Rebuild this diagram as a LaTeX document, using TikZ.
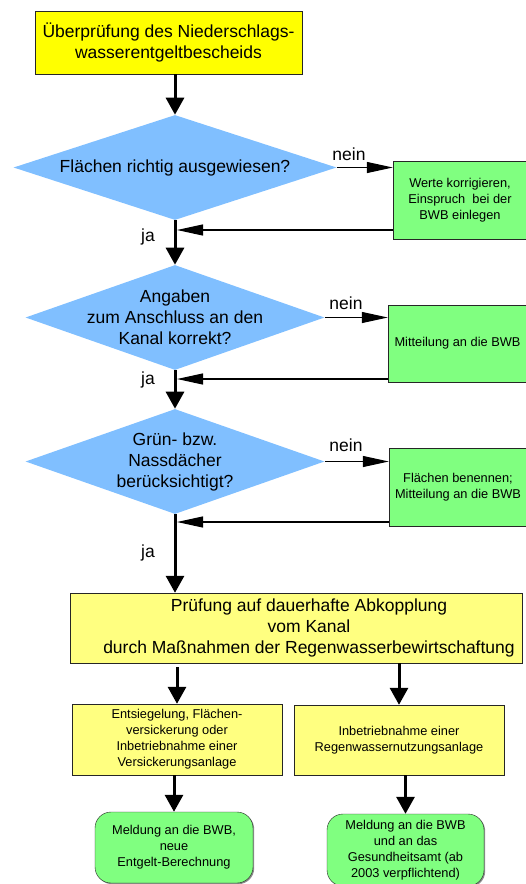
\documentclass[tikz,border=0pt]{standalone}
\usepackage{fontspec}
\setmainfont{Liberation Sans}
\usetikzlibrary{calc}
\usetikzlibrary{positioning}
\usetikzlibrary{arrows.meta}
\usetikzlibrary{shapes}
\usetikzlibrary{shadows}
\definecolor{checkYellow}{HTML}{FFFF00}
\definecolor{paleYellow}{HTML}{FFFF80}
\definecolor{noteGreen}{HTML}{80FF80}
\definecolor{askBlue}{HTML}{80BFFF}
\tikzset{every picture/.style={semithick}}
\tikzset{
  bigfont/.style={font=\fontsize{17.5}{21}\selectfont, align=center},
  smallfont/.style={font=\fontsize{12.8}{16}\selectfont, align=center},
  boxshadow/.style={drop shadow={shadow xshift=1.2pt, shadow yshift=-1.2pt, fill=black!45, opacity=1}},
  checkbox/.style={draw=black!85, thin, fill=checkYellow, inner sep=0pt, boxshadow, bigfont},
  measurebox/.style={draw=black!85, thin, fill=paleYellow, inner sep=0pt, boxshadow},
  notebox/.style={draw=black!85, thin, fill=noteGreen, inner sep=0pt, boxshadow, smallfont},
  reportbox/.style={draw=black!85, thin, fill=noteGreen, rounded corners=16pt, inner sep=0pt, boxshadow, smallfont},
  question/.style={diamond, fill=askBlue, inner sep=0pt, minimum height=105pt},
  flow/.style={line width=3pt, -{Triangle[length=17pt, width=18pt]}},
  branch/.style={line width=1.1pt, -{Triangle[length=26pt, width=11pt]}},
}
\begin{document}
\begin{tikzpicture}[x=1pt, y=-1pt]
  \useasboundingbox (0,0) rectangle (526,884);
  \clip (0,0) rectangle (526,884);

  % start
  \node[checkbox, minimum width=267pt, minimum height=63pt] (start) at (168.5,42.5)
    {\"Uberpr\"ufung des Niederschlags-\\wasserentgeltbescheids};

  % questions
  \node[question, minimum width=323pt,
    label={[bigfont]center:Flächen richtig ausgewiesen?}] (q1) at (175,167.5) {};
  \node[question, minimum width=299pt,
    label={[bigfont]center:{Angaben\\zum Anschluss an den\\Kanal korrekt?}}] (q2) at (175,317.5) {};
  \node[question, minimum width=299pt,
    label={[bigfont]center:{Grün- bzw.\\Nassdächer\\berücksichtigt?}}] (q3) at (175,461.5) {};

  % answers "nein"
  \node[notebox, minimum width=134pt, minimum height=78pt] (n1) at (460,200)
    {Werte korrigieren,\\Einspruch\ \ bei der\\BWB einlegen};
  \node[notebox, minimum width=139pt, minimum height=77pt] (n2) at (457.5,343.5)
    {Mitteilung an die BWB};
  \node[notebox, minimum width=138pt, minimum height=78pt] (n3) at (458,487)
    {Flächen benennen;\\Mitteilung an die BWB};

  \node[bigfont] (nein1) at (349,154) {nein};
  \node[bigfont] (nein2) at (346,303) {nein};
  \node[bigfont] (nein3) at (346,445) {nein};
  \node[bigfont] (ja1) at (148,237) {ja};
  \node[bigfont] (ja2) at (148,380) {ja};
  \node[bigfont] (ja3) at (148,553) {ja};

  % measures
  \node[measurebox, minimum width=452pt, minimum height=70pt,
    label={[bigfont, xshift=13pt]center:{Prüfung auf dauerhafte Abkopplung\\vom Kanal\\durch Maßnahmen der Regenwasserbewirtschaftung}}]
    (check) at (296,628) {};
  \node[measurebox, smallfont, minimum width=210pt, minimum height=71pt] (seep) at (177,739.5)
    {Entsiegelung, Flächen-\\versickerung oder\\Inbetriebnahme einer\\Versickerungsanlage};
  \node[measurebox, smallfont, minimum width=210pt, minimum height=70pt] (rain) at (399,740)
    {Inbetriebnahme einer\\Regenwassernutzungsanlage};

  % reports
  \node[reportbox, minimum width=158pt, minimum height=71pt] (rep1) at (174,847.5)
    {Meldung an die BWB,\\neue\\Entgelt-Berechnung};
  \node[reportbox, minimum width=157pt, minimum height=72pt] (rep2) at (405.5,850)
    {Meldung an die BWB\\und an das\\Gesundheitsamt (ab\\2003 verpflichtend)};

  % return points
  \coordinate (back1) at (177,230);
  \coordinate (back2) at (177,379);
  \coordinate (back3) at (177,522);

  % main flow
  \draw[flow] (start.south -| q1.north) -- (q1.north);
  \draw[flow] (q1.south) -- (q2.north);
  \draw[flow] (q2.south) -- (q3.north);
  \draw[flow] (q3.south) -- (q3.south |- check.north);
  \draw[flow] ($(check.south -| seep.north)+(0,4)$) -- (seep.north);
  \draw[flow] (check.south -| rain.north) -- (rain.north);
  \draw[flow] (seep.south -| rep1.north) -- (rep1.north);
  \draw[flow] (rain.south -| rep2.north) -- (rep2.north);

  % side branches
  \draw[branch] (q1.east) -- (q1.east -| n1.west);
  \draw[branch] (q2.east) -- (q2.east -| n2.west);
  \draw[branch] (q3.east) -- (q3.east -| n3.west);
  \draw[branch] (n1.west |- back1) -- (back1);
  \draw[branch] (n2.west |- back2) -- (back2);
  \draw[branch] (n3.west |- back3) -- (back3);
\end{tikzpicture}
\end{document}
